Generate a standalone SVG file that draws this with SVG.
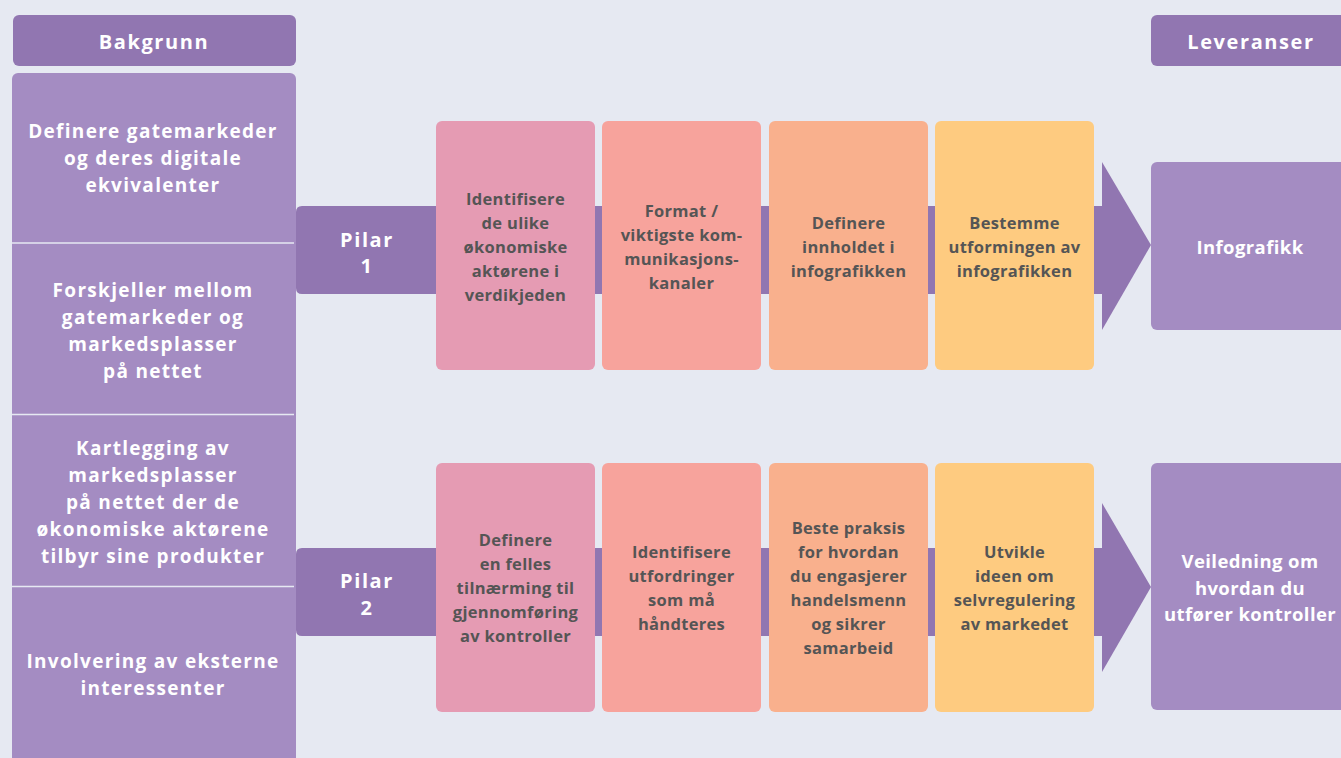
<svg xmlns="http://www.w3.org/2000/svg" width="1341" height="758" viewBox="0 0 1341 758">
<style>
.hdr{fill:#9176b1}
.col{fill:#a48cc2}
.bar{fill:#9176b1}
.wt{font-family:"Open Sans","Liberation Sans",sans-serif;font-weight:700;fill:#ffffff;text-anchor:middle}
.bt{font-family:"Open Sans","Liberation Sans",sans-serif;font-weight:700;fill:#555555;text-anchor:middle;font-size:16.5px;letter-spacing:0.3px}
.lt{font-size:19px;letter-spacing:1.3px}
.rt{font-size:18.5px;letter-spacing:0.4px}
.ht{font-size:20px;letter-spacing:1.6px}
.div{stroke:#e6e9f2;stroke-width:1.5}
.b1{fill:#e59bb3}.b2{fill:#f7a39c}.b3{fill:#f9b08d}.b4{fill:#fecb80}
</style>
<rect x="0" y="0" width="1341" height="758" fill="#e6e9f2"/>

<g id="connectors">
  <path class="bar" d="M302,206 H1102 V294 H302 Q296,294 296,288 V212 Q296,206 302,206 Z"/>
  <polygon class="bar" points="1102,162 1151,245 1102,330"/>
  <path class="bar" d="M302,548 H1102 V636 H302 Q296,636 296,630 V554 Q296,548 302,548 Z"/>
  <polygon class="bar" points="1102,503 1151,587 1102,672"/>
</g>

<g id="bakgrunn-header">
  <rect class="hdr" x="13" y="15" width="283" height="51" rx="6"/>
  <text class="wt ht" x="154" y="49">Bakgrunn</text>
</g>

<g id="bakgrunn-column">
  <rect class="col" x="12" y="73" width="284" height="700" rx="6"/>
  <line class="div" x1="12" y1="243" x2="294" y2="243"/>
  <line class="div" x1="12" y1="414.5" x2="294" y2="414.5"/>
  <line class="div" x1="12" y1="586.5" x2="294" y2="586.5"/>
</g>

<g id="bg1"><text class="wt lt" x="153" y="138"><tspan x="153">Definere gatemarkeder</tspan><tspan x="153" dy="27">og deres digitale</tspan><tspan x="153" dy="27">ekvivalenter</tspan></text></g>
<g id="bg2"><text class="wt lt" x="153" y="297"><tspan x="153">Forskjeller mellom</tspan><tspan x="153" dy="27">gatemarkeder og</tspan><tspan x="153" dy="27">markedsplasser</tspan><tspan x="153" dy="27">på nettet</tspan></text></g>
<g id="bg3"><text class="wt lt" x="153" y="455"><tspan x="153">Kartlegging av</tspan><tspan x="153" dy="27">markedsplasser</tspan><tspan x="153" dy="27">på nettet der de</tspan><tspan x="153" dy="27">økonomiske aktørene</tspan><tspan x="153" dy="27">tilbyr sine produkter</tspan></text></g>
<g id="bg4"><text class="wt lt" x="153" y="668"><tspan x="153">Involvering av eksterne</tspan><tspan x="153" dy="27">interessenter</tspan></text></g>

<g id="pilar1"><text class="wt ht" x="367" y="247"><tspan x="367">Pilar</tspan><tspan x="367" dy="26">1</tspan></text></g>
<g id="pilar2"><text class="wt ht" x="367" y="588"><tspan x="367">Pilar</tspan><tspan x="367" dy="27">2</tspan></text></g>

<g id="p1-step1"><rect class="b1" x="436" y="121" width="159" height="249" rx="6"/>
<text class="bt" x="515.5" y="205"><tspan x="515.5">Identifisere</tspan><tspan x="515.5" dy="24">de ulike</tspan><tspan x="515.5" dy="24">økonomiske</tspan><tspan x="515.5" dy="24">aktørene i</tspan><tspan x="515.5" dy="24">verdikjeden</tspan></text></g>
<g id="p1-step2"><rect class="b2" x="602" y="121" width="159" height="249" rx="6"/>
<text class="bt" x="681.5" y="217"><tspan x="681.5">Format /</tspan><tspan x="681.5" dy="24">viktigste kom-</tspan><tspan x="681.5" dy="24">munikasjons-</tspan><tspan x="681.5" dy="24">kanaler</tspan></text></g>
<g id="p1-step3"><rect class="b3" x="769" y="121" width="159" height="249" rx="6"/>
<text class="bt" x="848.5" y="229"><tspan x="848.5">Definere</tspan><tspan x="848.5" dy="24">innholdet i</tspan><tspan x="848.5" dy="24">infografikken</tspan></text></g>
<g id="p1-step4"><rect class="b4" x="935" y="121" width="159" height="249" rx="6"/>
<text class="bt" x="1014.5" y="229"><tspan x="1014.5">Bestemme</tspan><tspan x="1014.5" dy="24">utformingen av</tspan><tspan x="1014.5" dy="24">infografikken</tspan></text></g>

<g id="p2-step1"><rect class="b1" x="436" y="463" width="159" height="249" rx="6"/>
<text class="bt" x="515.5" y="546"><tspan x="515.5">Definere</tspan><tspan x="515.5" dy="24">en felles</tspan><tspan x="515.5" dy="24">tilnærming til</tspan><tspan x="515.5" dy="24">gjennomføring</tspan><tspan x="515.5" dy="24">av kontroller</tspan></text></g>
<g id="p2-step2"><rect class="b2" x="602" y="463" width="159" height="249" rx="6"/>
<text class="bt" x="681.5" y="558"><tspan x="681.5">Identifisere</tspan><tspan x="681.5" dy="24">utfordringer</tspan><tspan x="681.5" dy="24">som må</tspan><tspan x="681.5" dy="24">håndteres</tspan></text></g>
<g id="p2-step3"><rect class="b3" x="769" y="463" width="159" height="249" rx="6"/>
<text class="bt" x="848.5" y="534"><tspan x="848.5">Beste praksis</tspan><tspan x="848.5" dy="24">for hvordan</tspan><tspan x="848.5" dy="24">du engasjerer</tspan><tspan x="848.5" dy="24">handelsmenn</tspan><tspan x="848.5" dy="24">og sikrer</tspan><tspan x="848.5" dy="24">samarbeid</tspan></text></g>
<g id="p2-step4"><rect class="b4" x="935" y="463" width="159" height="249" rx="6"/>
<text class="bt" x="1014.5" y="558"><tspan x="1014.5">Utvikle</tspan><tspan x="1014.5" dy="24">ideen om</tspan><tspan x="1014.5" dy="24">selvregulering</tspan><tspan x="1014.5" dy="24">av markedet</tspan></text></g>

<g id="leveranser-header">
  <rect class="hdr" x="1151" y="15" width="200" height="51" rx="6"/>
  <text class="wt ht" x="1251" y="49">Leveranser</text>
</g>
<g id="infografikk">
  <rect class="col" x="1151" y="162" width="200" height="168" rx="6"/>
  <text class="wt rt" x="1250" y="254">Infografikk</text>
</g>
<g id="veiledning">
  <rect class="col" x="1151" y="463" width="200" height="247" rx="6"/>
  <text class="wt rt" x="1250" y="568"><tspan x="1250">Veiledning om</tspan><tspan x="1250" dy="26.5">hvordan du</tspan><tspan x="1250" dy="26.5">utfører kontroller</tspan></text>
</g>
</svg>
